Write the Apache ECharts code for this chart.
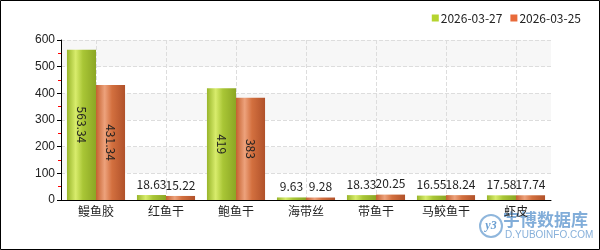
<!DOCTYPE html>
<html><head><meta charset="utf-8">
<script src="https://cdn.jsdelivr.net/npm/echarts@6/dist/echarts.min.js"></script>
<style>html,body{margin:0;padding:0;}#c{width:600px;height:250px;}</style>
</head><body><div id="c"></div>
<script>
const categories = ['鳗鱼胶','红鱼干','鲍鱼干','海带丝','带鱼干','马鲛鱼干','虾皮'];
const seriesNames = ['2026-03-27','2026-03-25'];
const values2703 = [563.34, 18.63, 419, 9.63, 18.33, 16.55, 17.58];
const values2503 = [431.34, 15.22, 383, 9.28, 20.25, 18.24, 17.74];
const yTicks = [0,100,200,300,400,500,600];

const font = '"Noto Sans CJK SC", "Liberation Sans", sans-serif';
function grad(stops){
  return new echarts.graphic.LinearGradient(0,0,1,0, stops.map(c=>({offset:c[0],color:c[1]})));
}
const greenGrad = grad([[0,'#98b52a'],[0.3,'#d8ec6c'],[0.55,'#a9c636'],[1,'#8ba624']]);
const orangeGrad = grad([[0,'#c4612f'],[0.3,'#eda27c'],[0.55,'#d3703f'],[1,'#b0512a']]);

function build(vals){
  return vals.map(v => {
    const big = v > 100;
    return {
      value: v,
      label: big ? {position:'inside', rotate:-90} : {position:'top', rotate:0}
    };
  });
}
const labelCommon = {show:true, fontSize:12, color:'#222', fontFamily:font, formatter: p => String(p.value)};

const chart = echarts.init(document.getElementById('c'), null, {renderer:'canvas'});
chart.setOption({
  animation:false,
  legend:{
    data:[{name:seriesNames[0], itemStyle:{color:'#b5d42f'}},{name:seriesNames[1], itemStyle:{color:'#e86a3a'}}],
    top:7, right:14, icon:'rect', itemWidth:7, itemHeight:7, itemGap:8,
    textStyle:{fontSize:12, color:'#222', fontFamily:font, padding:[0,0,0,-3]}
  },
  grid:{left:61, right:49, top:40, bottom:50},
  xAxis:{
    type:'category', data:categories,
    axisLine:{lineStyle:{color:'#000', width:1}},
    axisTick:{show:false},
    axisLabel:{fontSize:12, color:'#222', fontFamily:font, margin:5},
    splitLine:{show:true, alignWithLabel:true, lineStyle:{color:'#ddd', type:'dashed'}}
  },
  yAxis:{
    type:'value', min:yTicks[0], max:yTicks[yTicks.length-1], interval:100,
    axisLine:{show:true, lineStyle:{color:'#000'}},
    axisTick:{show:true, length:4, lineStyle:{color:'#000'}},
    minorTick:{show:true, splitNumber:2, length:3, lineStyle:{color:'#f00'}},
    axisLabel:{fontSize:12, color:'#222', fontFamily:'"Liberation Sans", Arial, sans-serif', margin:6},
    splitLine:{show:true, lineStyle:{color:'#ddd', type:'dashed'}},
    splitArea:{show:true, areaStyle:{color:['#ffffff','#f7f7f7']}}
  },
  series:[
    {name:seriesNames[0], type:'bar', data:build(values2703), barGap:'0%', barCategoryGap:'17%',
     itemStyle:{color:greenGrad}, label:labelCommon},
    {name:seriesNames[1], type:'bar', data:build(values2503),
     itemStyle:{color:orangeGrad}, label:labelCommon}
  ],
  graphic:[
    {type:'rect', silent:true, z:100, shape:{x:0.5, y:0.5, width:599, height:249}, style:{fill:'none', stroke:'#000', lineWidth:1}},
    {type:'circle', silent:true, shape:{cx:491, cy:226, r:11}, style:{fill:'none', stroke:'#8fb6dc', lineWidth:2}},
    {type:'text', silent:true, x:491, y:226, style:{text:'y3', font:'italic bold 12px "Liberation Serif", serif', fill:'#6b9fd2', align:'center', verticalAlign:'middle'}},
    {type:'text', silent:true, x:503, y:211, style:{text:'宇博数据库', font:'bold 17px "Noto Sans CJK SC"', fill:'#6b9fd2', opacity:0.85, verticalAlign:'top'}},
    {type:'text', silent:true, x:505, y:230, style:{text:'D.YUBOINFO.COM', font:'10px "Liberation Sans", sans-serif', fill:'#7aa7d6', opacity:0.9, verticalAlign:'top'}}
  ]
});
</script></body></html>
